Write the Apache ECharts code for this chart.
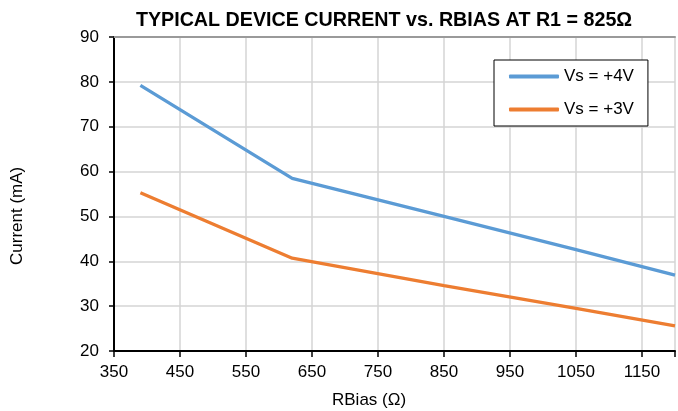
<!DOCTYPE html>
<html>
<head>
<meta charset="utf-8">
<script src="https://cdn.jsdelivr.net/npm/echarts@6/dist/echarts.min.js"></script>
<style>
html,body{margin:0;padding:0;background:#fff;}
#c{width:678px;height:411px;}
</style>
</head>
<body>
<div id="c"></div>
<script>
const rbias = [390, 620, 850, 1050, 1200];
const vs4 = [79.2, 58.5, 50.0, 42.6, 36.9];
const vs3 = [55.3, 40.7, 34.6, 29.5, 25.6];
const seriesNames = ['Vs = +4V', 'Vs = +3V'];
const titleText = 'TYPICAL DEVICE CURRENT vs. RBIAS AT R1 = 825\u03A9';
const xName = 'RBias (\u03A9)';
const yName = 'Current (mA)';

const FONT = '"Liberation Sans", Arial, sans-serif';
const chart = echarts.init(document.getElementById('c'), null, {renderer: 'canvas'});
const pair = (xs, ys) => xs.map((x, i) => [x, ys[i]]);

chart.setOption({
  animation: false,
  backgroundColor: '#fff',
  title: {
    text: titleText,
    left: 379, top: 6, textAlign: 'center',
    textStyle: {fontFamily: FONT, fontSize: 19.7, fontWeight: 'bold', color: '#000'}
  },
  legend: {
    orient: 'vertical',
    left: 494, top: 60,
    padding: [8, 14, 8, 15],
    itemGap: 16,
    itemWidth: 50, itemHeight: 4, itemTextGap: 4,
    icon: 'roundRect',
    borderColor: '#000', borderWidth: 1,
    backgroundColor: '#fff',
    textStyle: {fontFamily: FONT, fontSize: 17, color: '#000'},
    data: seriesNames
  },
  grid: {left: 114, right: -2, top: 37, bottom: 60, containLabel: false},
  xAxis: [{
    type: 'value', min: 350, max: 1200, interval: 100,
    axisLine: {show: true, onZero: false, lineStyle: {color: '#000', width: 2}},
    axisTick: {show: true, length: 6, lineStyle: {color: '#000', width: 1.5}},
    axisLabel: {fontFamily: FONT, fontSize: 17, color: '#000', margin: 13,
      formatter: v => (v <= 1150 ? String(v) : '')},
    splitLine: {show: true, lineStyle: {color: '#d4d4d4', width: 1.5}}
  }, {
    type: 'value', position: 'top', min: 350, max: 1200,
    axisLine: {show: true, onZero: false, lineStyle: {color: '#9a9a9a', width: 2}},
    axisTick: {show: false}, axisLabel: {show: false}, splitLine: {show: false}
  }],
  yAxis: {
    type: 'value', min: 20, max: 90, interval: 10,
    axisLine: {show: true, onZero: false, lineStyle: {color: '#000', width: 2}},
    axisTick: {show: true, length: 5, lineStyle: {color: '#000', width: 1.5}},
    axisLabel: {fontFamily: FONT, fontSize: 17, color: '#000', margin: 15},
    splitLine: {show: true, lineStyle: {color: '#d4d4d4', width: 1.5}}
  },
  graphic: [
    {type: 'text', left: 332, top: 392,
     style: {text: xName, fontFamily: FONT, fontSize: 17, fill: '#000'}},
    {type: 'text', x: 9, y: 265, rotation: Math.PI / 2,
     style: {text: yName, fontFamily: FONT, fontSize: 17, fill: '#000', textAlign: 'left', textVerticalAlign: 'top'}}
  ],
  series: [
    {name: seriesNames[0], type: 'line', data: pair(rbias, vs4), showSymbol: false, symbol: 'none',
     lineStyle: {color: '#5B9BD5', width: 3.3}, itemStyle: {color: '#5B9BD5'}},
    {name: seriesNames[1], type: 'line', data: pair(rbias, vs3), showSymbol: false, symbol: 'none',
     lineStyle: {color: '#ED7D31', width: 3.3}, itemStyle: {color: '#ED7D31'}}
  ]
});
</script>
</body>
</html>
